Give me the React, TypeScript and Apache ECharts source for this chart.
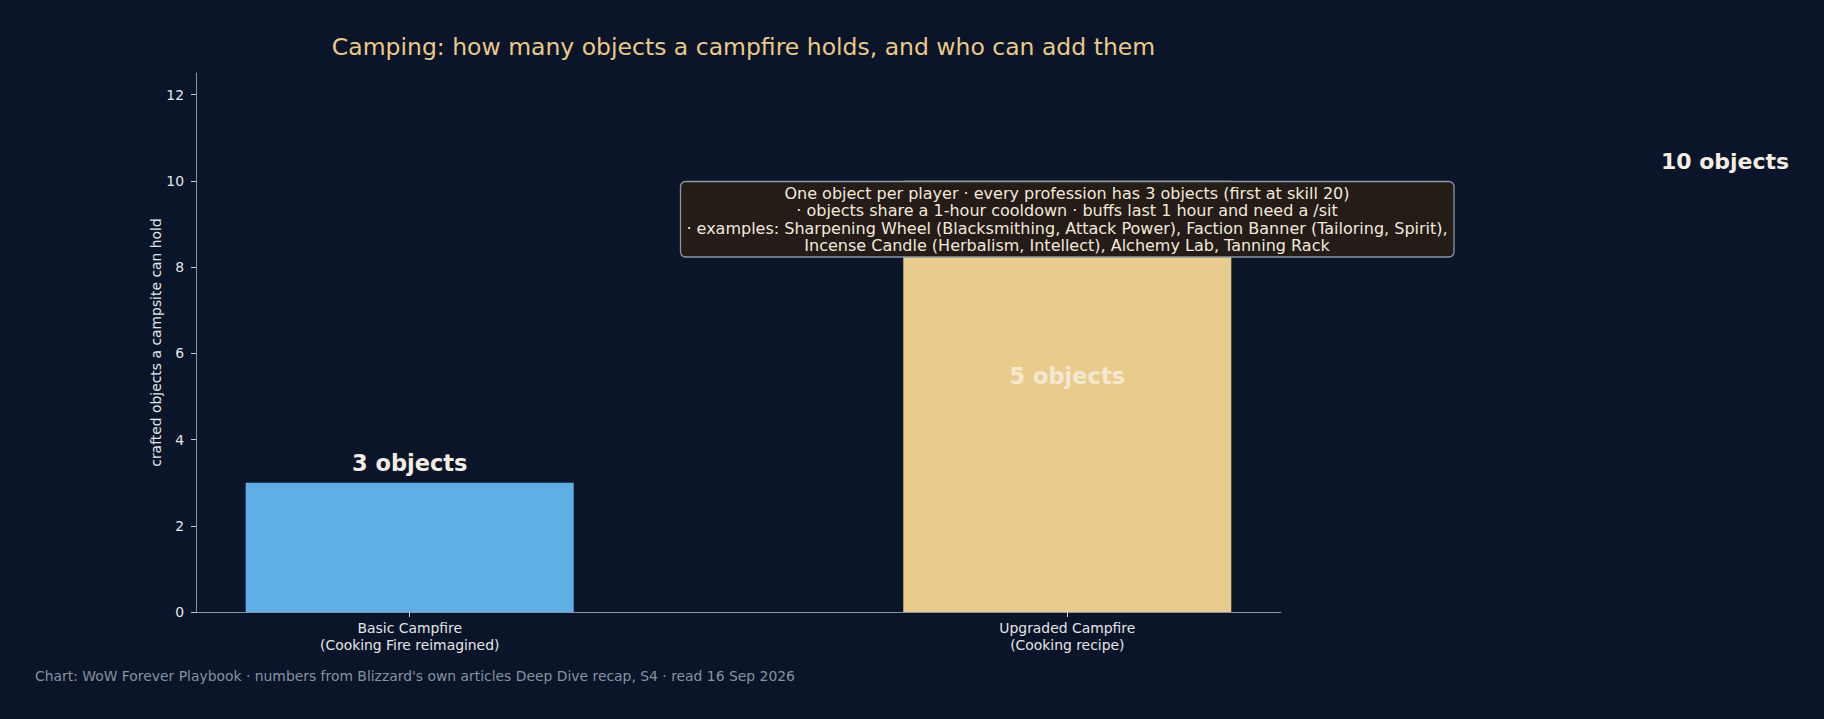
import React, { useEffect, useRef } from "react";
import * as echarts from "echarts";

const titleText = "Camping: how many objects a campfire holds, and who can add them";
const categories = ["Basic Campfire\n(Cooking Fire reimagined)", "Upgraded Campfire\n(Cooking recipe)"];
const categoryPositions = [0, 1];
const objectCounts = [3, 10];
const barColors = ["#5dafe6", "#e9cc8c"];
const innerLabel = "5 objects";
const yTicks = [0, 2, 4, 6, 8, 10, 12];
const yAxisName = "crafted objects a campsite can hold";
const noteLines = [
  "One object per player · every profession has 3 objects (first at skill 20)",
  "· objects share a 1-hour cooldown · buffs last 1 hour and need a /sit",
  "· examples: Sharpening Wheel (Blacksmithing, Attack Power), Faction Banner (Tailoring, Spirit),",
  "Incense Candle (Herbalism, Intellect), Alchemy Lab, Tanning Rack",
];
const footerText =
  "Chart: WoW Forever Playbook · numbers from Blizzard's own articles Deep Dive recap, S4 · read 16 Sep 2026";

const FONT = "DejaVu Sans";
const BG = "#0a1529";

export default function App() {
  const ref = useRef<HTMLDivElement>(null);
  useEffect(() => {
    document.body.style.margin = "0";
    document.body.style.background = BG;
    const chart = echarts.init(ref.current!, null, { renderer: "svg" });
    const option: any = {
      animation: false,
      backgroundColor: BG,
      title: {
        text: titleText,
        left: 738.5,
        top: 29.5,
        textAlign: "center",
        textStyle: { fontFamily: FONT, fontSize: 23.5, fontWeight: "normal", color: "#e9ca88" },
      },
      grid: { left: 196, right: 543, top: 73, bottom: 107, containLabel: false },
      xAxis: {
        type: "value",
        min: -0.325,
        max: 1.325,
        splitLine: { show: false },
        axisLine: { show: true, onZero: false, lineStyle: { color: "#8a93a6", width: 1 } },
        axisTick: { show: true, length: 5, customValues: categoryPositions, lineStyle: { color: "#c8ccd4" } },
        axisLabel: {
          customValues: categoryPositions,
          formatter: (v: number) => categories[Math.round(v)] ?? "",
          fontFamily: FONT,
          fontSize: 13.9,
          lineHeight: 17,
          color: "#e6e6e6",
          margin: 7,
        },
      },
      yAxis: {
        type: "value",
        min: 0,
        max: 12.5,
        interval: 2,
        name: yAxisName,
        nameLocation: "middle",
        nameRotate: 90,
        nameGap: 33,
        nameMoveOverlap: false,
        nameTextStyle: { fontFamily: FONT, fontSize: 13.9, color: "#e6e6e6" },
        splitLine: { show: false },
        axisLine: { show: true, onZero: false, lineStyle: { color: "#8a93a6", width: 1 } },
        axisTick: { show: true, length: 5, customValues: yTicks, lineStyle: { color: "#c8ccd4" } },
        axisLabel: {
          customValues: yTicks,
          fontFamily: FONT,
          fontSize: 13.9,
          color: "#e6e6e6",
          margin: 12,
        },
      },
      series: [
        {
          type: "bar",
          barWidth: 328,
          data: objectCounts.map((v, i) => ({
            value: [categoryPositions[i], v],
            itemStyle: { color: barColors[i] },
            label:
              i === 0
                ? {
                    show: true,
                    position: "top",
                    distance: 8,
                    formatter: `${v} objects`,
                    fontFamily: FONT,
                    fontSize: 22.5,
                    fontWeight: "bold",
                    color: "#f3ede2",
                  }
                : {
                    show: true,
                    position: ["50%", "45.2%"],
                    align: "center",
                    verticalAlign: "middle",
                    formatter: innerLabel,
                    fontFamily: FONT,
                    fontSize: 22.5,
                    fontWeight: "bold",
                    color: "rgba(246,240,228,0.82)",
                  },
          })),
        },
      ],
      graphic: [
        {
          type: "rect",
          z: 100,
          shape: { x: 680.5, y: 181.5, width: 773.5, height: 75.5, r: 5 },
          style: { fill: "#231c17", stroke: "#8d96a8", lineWidth: 1.3 },
        },
        {
          type: "text",
          z: 101,
          x: 1067,
          y: 219.5,
          style: {
            text: noteLines.join("\n"),
            font: `16px "${FONT}"`,
            fill: "#f2ead9",
            align: "center",
            verticalAlign: "middle",
            lineHeight: 17.5,
          },
        },
        {
          type: "text",
          z: 101,
          x: 1725,
          y: 161,
          style: {
            text: `${objectCounts[1]} objects`,
            font: `bold 22px "${FONT}"`,
            fill: "#f3ede2",
            align: "center",
            verticalAlign: "middle",
          },
        },
        {
          type: "text",
          z: 101,
          x: 35,
          y: 676,
          style: {
            text: footerText,
            font: `13.9px "${FONT}"`,
            fill: "#8891a1",
            align: "left",
            verticalAlign: "middle",
          },
        },
      ],
    };
    chart.setOption(option);
    return () => chart.dispose();
  }, []);
  return <div ref={ref} style={{ width: 1824, height: 719 }} />;
}
